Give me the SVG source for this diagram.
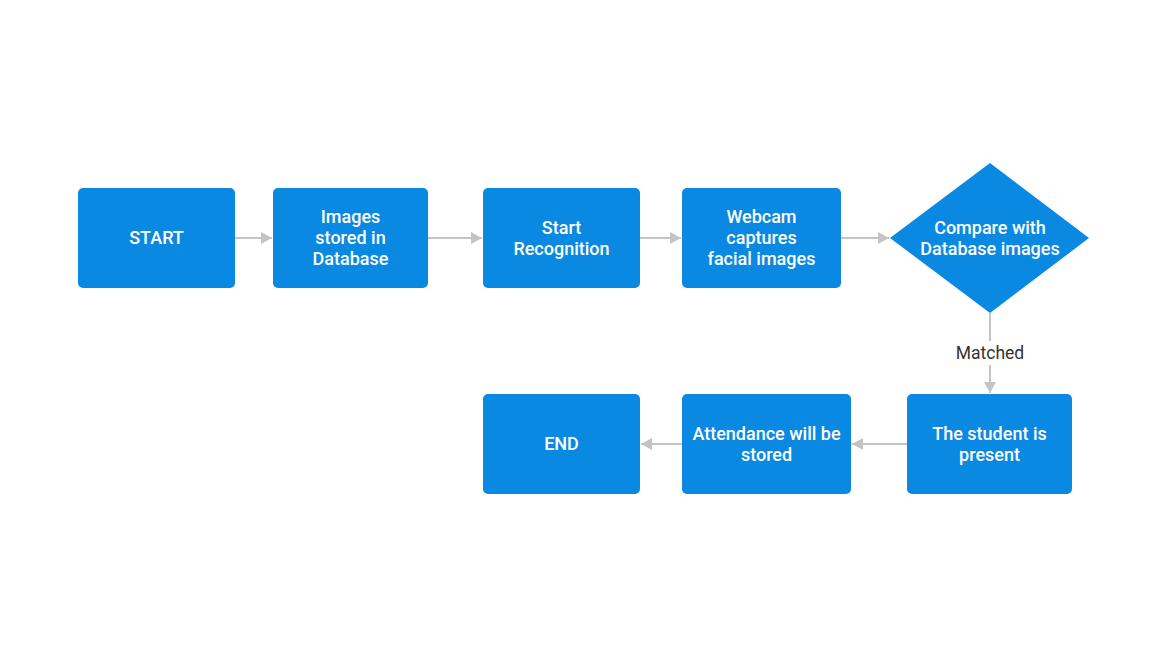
<svg xmlns="http://www.w3.org/2000/svg" width="1152" height="648" viewBox="0 0 1152 648">
<style>
.n{fill:#0a89e2}
.t{font-family:Roboto,"Liberation Sans",sans-serif;font-size:18px;font-weight:500;fill:#fff;text-anchor:middle}
.c{stroke:#c4c4c4;stroke-width:2;fill:none}
.l{font-family:Roboto,"Liberation Sans",sans-serif;font-size:17.5px;fill:#333;text-anchor:middle}
</style>
<defs>
<marker id="a" markerWidth="12" markerHeight="12" refX="11" refY="6" orient="auto" markerUnits="userSpaceOnUse">
<path d="M0,0 L11,6 L0,12 Z" fill="#c4c4c4"/>
</marker>
</defs>
<rect width="1152" height="648" fill="#fff"/>
<g id="connectors">
<line class="c" x1="235" y1="238" x2="272" y2="238" marker-end="url(#a)"/>
<line class="c" x1="428" y1="238" x2="482" y2="238" marker-end="url(#a)"/>
<line class="c" x1="640" y1="238" x2="681" y2="238" marker-end="url(#a)"/>
<line class="c" x1="841" y1="238" x2="889" y2="238" marker-end="url(#a)"/>
<line class="c" x1="990" y1="313" x2="990" y2="341"/>
<line class="c" x1="990" y1="365" x2="990" y2="393" marker-end="url(#a)"/>
<text class="l" x="990" y="359">Matched</text>
<line class="c" x1="907" y1="444" x2="852" y2="444" marker-end="url(#a)"/>
<line class="c" x1="682" y1="444" x2="641" y2="444" marker-end="url(#a)"/>
</g>
<g id="start"><rect class="n" x="78" y="188" width="157" height="100" rx="5"/><text class="t" x="156.5" y="244">START</text></g>
<g id="images"><rect class="n" x="273" y="188" width="155" height="100" rx="5"/><text class="t" x="350.5" y="223">Images</text><text class="t" x="350.5" y="244">stored in</text><text class="t" x="350.5" y="265">Database</text></g>
<g id="recog"><rect class="n" x="483" y="188" width="157" height="100" rx="5"/><text class="t" x="561.5" y="234">Start</text><text class="t" x="561.5" y="255">Recognition</text></g>
<g id="webcam"><rect class="n" x="682" y="188" width="159" height="100" rx="5"/><text class="t" x="761.5" y="223">Webcam</text><text class="t" x="761.5" y="244">captures</text><text class="t" x="761.5" y="265">facial images</text></g>
<g id="compare"><polygon class="n" points="990,163 1089,238 990,313 890,238"/><text class="t" x="990" y="234">Compare with</text><text class="t" x="990" y="255">Database images</text></g>
<g id="student"><rect class="n" x="907" y="394" width="165" height="100" rx="5"/><text class="t" x="989.5" y="440">The student is</text><text class="t" x="989.5" y="461">present</text></g>
<g id="attendance"><rect class="n" x="682" y="394" width="169" height="100" rx="5"/><text class="t" x="766.5" y="440">Attendance will be</text><text class="t" x="766.5" y="461">stored</text></g>
<g id="end"><rect class="n" x="483" y="394" width="157" height="100" rx="5"/><text class="t" x="561.5" y="450">END</text></g>
</svg>
